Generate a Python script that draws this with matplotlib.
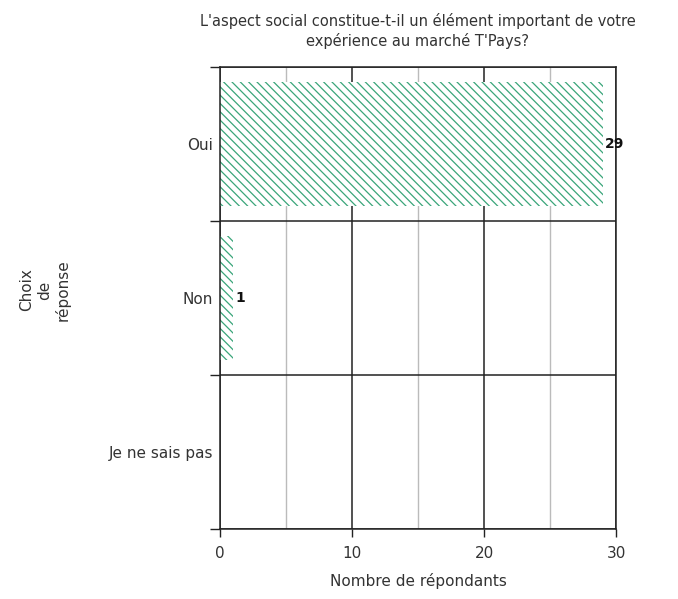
#!/usr/bin/env python3
# coding=utf-8

import matplotlib
matplotlib.use('Agg')
import matplotlib.pyplot as plt
from matplotlib.ticker import MultipleLocator, FixedLocator

# Données
choix = ['Oui', 'Non', 'Je ne sais pas']
reponses = [29, 1, 0]
titre = "L'aspect social constitue-t-il un élément important de votre\nexpérience au marché T'Pays?"

plt.rcParams['font.family'] = ['DejaVu Sans']
plt.rcParams['hatch.linewidth'] = 0.9

vert = '#3aa57a'
gris = '#333333'

fig = plt.figure(figsize=(6.78, 5.99), dpi=100)
ax = fig.add_axes([220 / 678, 1 - 529 / 599, 396 / 678, 462 / 599])

pos = list(range(len(choix)))
ax.barh(pos, reponses, height=0.8, facecolor='white', edgecolor=vert,
        linewidth=0, hatch='\\\\\\\\', zorder=2)
for p, v in zip(pos, reponses):
    if v > 0:
        ax.text(v + 0.15, p, str(v), va='center', ha='left',
                fontsize=10, fontweight='bold', color='#111111', zorder=4)

ax.set_ylim(2.5, -0.5)
ax.set_xlim(0, 30)

ax.set_yticks(pos)
ax.set_yticklabels(choix, fontsize=11, color=gris)
ax.yaxis.set_minor_locator(FixedLocator([-0.5, 0.5, 1.5, 2.5]))
ax.tick_params(axis='y', which='major', length=0, pad=5)
ax.tick_params(axis='y', which='minor', length=7, width=1, color='#222222')

ax.xaxis.set_major_locator(MultipleLocator(10))
ax.xaxis.set_minor_locator(MultipleLocator(5))
ax.tick_params(axis='x', which='major', length=6, width=1, color='#222222',
               labelsize=11, labelcolor=gris, pad=6)
ax.tick_params(axis='x', which='minor', length=0)

ax.grid(axis='x', which='major', color='#222222', linewidth=1.1, zorder=1)
ax.grid(axis='x', which='minor', color='#bbbbbb', linewidth=1, zorder=1)
ax.grid(axis='y', which='minor', color='#222222', linewidth=1.1, zorder=1)
ax.set_axisbelow(True)

for s in ax.spines.values():
    s.set_color('#222222')
    s.set_linewidth(1.1)

ax.set_xlabel('Nombre de répondants', fontsize=11, color=gris, labelpad=9)
fig.text(45 / 678, 1 - 290 / 599, 'Choix\nde\nréponse', rotation=90,
         ha='center', va='center', fontsize=11, color=gris,
         multialignment='center')
ax.set_title(titre, fontsize=10.5, color=gris, pad=15, linespacing=1.3)

fig.savefig('out.png', dpi=100)
